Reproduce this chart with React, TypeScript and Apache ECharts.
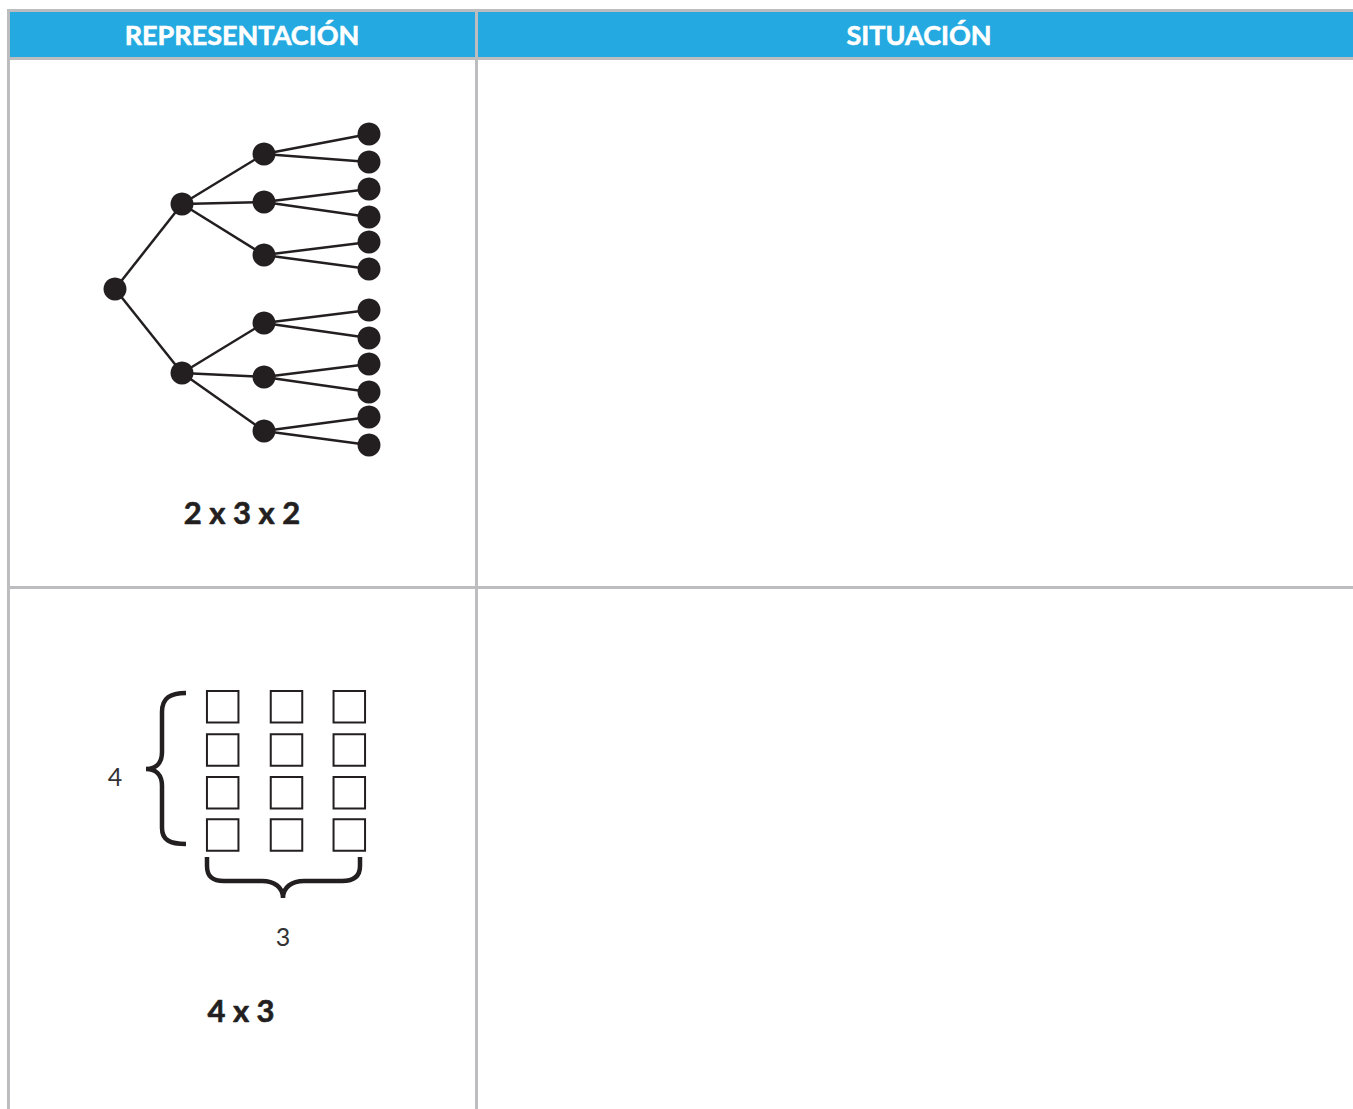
import React, { useEffect, useRef } from "react";
import * as echarts from "echarts";

// ---- Data ----
const headers = ["REPRESENTACIÓN", "SITUACIÓN"];
const treeRoot: [number, number] = [115, 289];
const level1: [number, number][] = [
  [182, 204],
  [182, 373],
];
const level2X = 264;
const level2Y = [154, 202, 255, 323, 377, 431];
const leafX = 369;
const leafY = [134, 162, 189, 217, 242, 269, 310, 338, 364, 392, 417, 445];
const treeLabel = "2 x 3 x 2";

const gridColX = [222.7, 286.5, 349.3];
const gridRowY = [706.7, 750, 792.7, 835];
const gridLabel = "4 x 3";
const rowCountLabel = "4";
const colCountLabel = "3";

const W = 1353;
const H = 1109;
const INK = "#231f20";
const GRAY = "#bdbdbf";
const BLUE = "#24a9e1";

const leftBrace =
  "M186,693 C170,693 162,698 162,712 L162,752 C162,763 156,769 146,769 C156,769 162,775 162,786 L162,828 C162,840 170,844 186,844";
const bottomBrace =
  "M207,857 L207,866 C207,876 212,881 224,881 L262,881 C274,881 283,887 283,898 C283,887 292,881 304,881 L342,881 C354,881 360,876 360,866 L360,857";

echarts.graphic.registerShape("braceLeft", echarts.graphic.extendPath(leftBrace, {}));
echarts.graphic.registerShape("braceBottom", echarts.graphic.extendPath(bottomBrace, {}));

export default function App() {
  const ref = useRef<HTMLDivElement>(null);
  useEffect(() => {
    document.body.style.margin = "0";
    if (!ref.current) return;
    const chart = echarts.init(ref.current, undefined, { renderer: "svg" });

    const l2Nodes = level2Y.map((y) => [level2X, y]);
    const leafNodes = leafY.map((y) => [leafX, y]);
    const nodes = [treeRoot, ...level1, ...l2Nodes, ...leafNodes];
    const edges: any[] = [];
    level1.forEach((p) => edges.push({ coords: [treeRoot, p] }));
    l2Nodes.forEach((p, i) => edges.push({ coords: [level1[Math.floor(i / 3)], p] }));
    leafNodes.forEach((p, j) => edges.push({ coords: [l2Nodes[Math.floor(j / 2)], p] }));

    const squares: number[][] = [];
    gridRowY.forEach((y) => gridColX.forEach((x) => squares.push([x, y])));

    const font = "Lato";
    const rect = (x: number, y: number, w: number, h: number, fill: string) => ({
      type: "rect",
      shape: { x, y, width: w, height: h },
      style: { fill },
      silent: true,
    });
    const text = (
      x: number,
      y: number,
      t: string,
      size: number,
      weight: string,
      fill: string,
      stroke?: string
    ) => ({
      type: "text",
      x,
      y,
      style: {
        text: t,
        fontSize: size,
        fontWeight: weight,
        fontFamily: font,
        fill,
        stroke: stroke || "none",
        lineWidth: stroke ? 0.6 : 0,
        align: "center",
        verticalAlign: "middle",
      },
      silent: true,
    });

    chart.setOption({
      animation: false,
      grid: { left: 0, right: 0, top: 0, bottom: 0 },
      xAxis: { type: "value", min: 0, max: W, show: false },
      yAxis: { type: "value", min: 0, max: H, inverse: true, show: false },
      graphic: [
        rect(10, 12, W - 10, 45, BLUE),
        rect(7, 9, W - 7, 3, GRAY),
        rect(7, 57, W - 7, 3, GRAY),
        rect(7, 586, W - 7, 3, GRAY),
        rect(7, 9, 3, H - 9, GRAY),
        rect(475, 9, 3, H - 9, GRAY),
        text(242, 34.5, headers[0], 27, "bold", "#ffffff", "#ffffff"),
        text(919, 34.5, headers[1], 27, "bold", "#ffffff", "#ffffff"),
        text(242, 511.5, treeLabel, 31, "bold", INK, INK),
        text(241, 1009.5, gridLabel, 31, "bold", INK, INK),
        text(115, 776, rowCountLabel, 25, "normal", "#333333"),
        text(283, 936, colCountLabel, 25, "normal", "#333333"),
        {
          type: "braceLeft",
          x: 0,
          y: 0,
          style: { fill: "none", stroke: INK, lineWidth: 4.5 },
          silent: true,
        },
        {
          type: "braceBottom",
          x: 0,
          y: 0,
          style: { fill: "none", stroke: INK, lineWidth: 4.5 },
          silent: true,
        },
      ],
      series: [
        {
          type: "lines",
          coordinateSystem: "cartesian2d",
          data: edges,
          lineStyle: { color: INK, width: 2.5, opacity: 1 },
          z: 2,
          silent: true,
        },
        {
          type: "scatter",
          data: nodes,
          symbol: "circle",
          symbolSize: 23,
          itemStyle: { color: INK, opacity: 1 },
          z: 3,
          silent: true,
        },
        {
          type: "scatter",
          data: squares,
          symbol: "rect",
          symbolSize: 31.5,
          itemStyle: { color: "#ffffff", borderColor: INK, borderWidth: 2, opacity: 1 },
          z: 3,
          silent: true,
        },
      ],
    });
    return () => chart.dispose();
  }, []);
  return <div ref={ref} style={{ width: W, height: H }} />;
}
